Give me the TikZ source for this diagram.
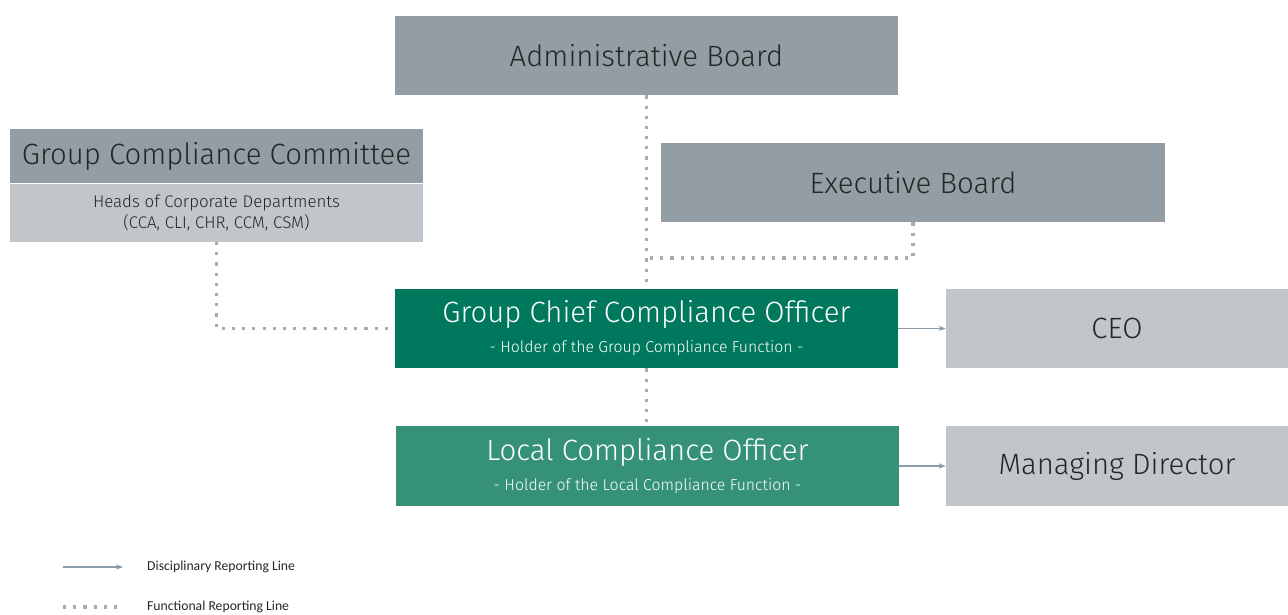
\documentclass[tikz,border=0pt]{standalone}
\usepackage{fontspec}
\setmainfont{Fira Sans Light}
\newfontfamily\legendfont{Carlito}
\usetikzlibrary{arrows.meta}
\definecolor{boardgray}{RGB}{147,158,164}
\definecolor{palegray}{RGB}{193,198,202}
\definecolor{darkgreen}{RGB}{0,120,93}
\definecolor{midgreen}{RGB}{53,146,121}
\definecolor{dotgray}{RGB}{165,171,175}
\definecolor{linegray}{RGB}{141,155,166}
\tikzset{
  box/.style={rectangle,inner sep=0pt,align=center,text=black!85},
  bigtext/.style={font=\fontsize{16.7}{20}\selectfont},
  subtext/.style={font=\fontsize{9.6}{12}\selectfont},
  funcline/.style={dotgray,line width=1.8pt,dash pattern=on 1.8pt off 4pt},
  discline/.style={linegray,line width=0.8pt,-{Stealth[length=4pt,width=3pt]}},
}
\begin{document}
\begin{tikzpicture}[x=0.02cm,y=-0.02cm]
    \useasboundingbox (0,0) rectangle (1288,615);
    % boxes
    \node[box,bigtext,fill=boardgray,minimum width=10.06cm,minimum height=1.58cm] (admin) at (646.5,55.5) {Administrative Board};
    \node[box,bigtext,fill=boardgray,minimum width=10.08cm,minimum height=1.58cm] (exec) at (913,182.5) {Executive Board};
    \node[box,bigtext,fill=boardgray,minimum width=8.26cm,minimum height=1.08cm] (gcc) at (216.5,156) {Group Compliance Committee};
    \node[box,subtext,fill=palegray,minimum width=8.26cm,minimum height=1.16cm,anchor=north] (heads) at (gcc.south) {Heads of Corporate Departments\\(CCA, CLI, CHR, CCM, CSM)};
    \node[box,fill=darkgreen,text=white,minimum width=10.06cm,minimum height=1.58cm] (gcco) at (646.5,328.5)
      {{\fontsize{16.7}{20}\selectfont Group Chief Compliance Officer}\\[5pt]{\fontsize{9}{11}\selectfont - Holder of the Group Compliance Function -}};
    \node[box,fill=midgreen,text=white,minimum width=10.06cm,minimum height=1.6cm] (lco) at (647.5,466)
      {{\fontsize{16.7}{20}\selectfont Local Compliance Officer}\\[5pt]{\fontsize{9}{11}\selectfont - Holder of the Local Compliance Function -}};
    \node[box,bigtext,fill=palegray,minimum width=6.84cm,minimum height=1.58cm] (ceo) at (1117,328.5) {CEO};
    \node[box,bigtext,fill=palegray,minimum width=6.84cm,minimum height=1.6cm] (md) at (1117,466) {Managing Director};
    % functional lines
    \draw[funcline] (admin.south) -- (gcco.north);
    \draw[funcline] (gcco.south) -- (gcco.south |- lco.north);
    \draw[funcline] (exec.south) |- (648,258);
    \draw[funcline] (heads.south) |- (gcco.west);
    % disciplinary lines
    \draw[discline] (gcco.east) -- (ceo.west);
    \draw[discline] (lco.east) -- (md.west);
    % legend
    \coordinate (l1) at (63,567);
    \coordinate (l2) at (63,607);
    \draw[discline] (l1) -- +(60,0);
    \draw[funcline] (l2) -- +(60,0);
    \node[anchor=west,font=\legendfont\fontsize{7.8}{9}\selectfont,text=black!85] (disc) at (141,567) {Disciplinary Reporting Line};
    \node[anchor=west,font=\legendfont\fontsize{7.8}{9}\selectfont,text=black!85] (func) at (141,607) {Functional Reporting Line};
\end{tikzpicture}
\end{document}
